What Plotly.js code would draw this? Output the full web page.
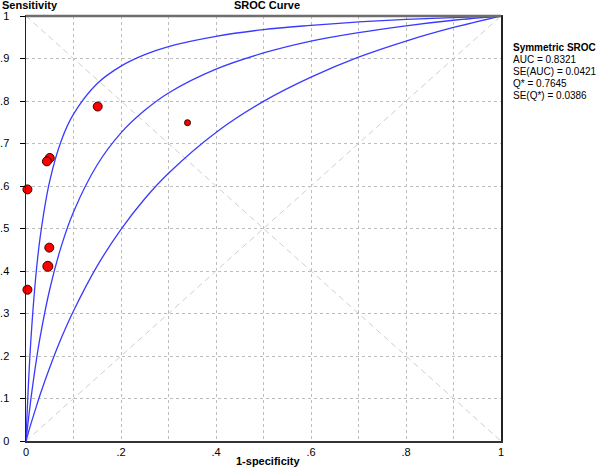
<!DOCTYPE html>
<html>
<head>
<meta charset="utf-8">
<script src="https://cdn.plot.ly/plotly-3.0.1.min.js"></script>
<style>html,body{margin:0;padding:0;background:#fff;}#chart{width:600px;height:468px;}</style>
</head>
<body>
<div id="chart"></div>
<script>
// Study points (1-specificity, sensitivity)
const studyFPR = [0.151, 0.340, 0.050, 0.044, 0.003, 0.049, 0.046, 0.003];
const studyTPR = [0.787, 0.749, 0.666, 0.658, 0.592, 0.455, 0.411, 0.356];
const studySize = [9, 6, 9, 9, 9, 9, 10, 9];

// SROC curves
const curveFPR = [0, 0.002, 0.005, 0.01, 0.02, 0.03, 0.05, 0.075, 0.1, 0.15, 0.2, 0.25, 0.3, 0.4, 0.5, 0.6, 0.7, 0.8, 0.9, 1];
const upperTPR = [0, 0.057, 0.131, 0.233, 0.380, 0.481, 0.612, 0.709, 0.769, 0.841, 0.882, 0.909, 0.928, 0.952, 0.968, 0.978, 0.986, 0.992, 0.996, 1];
const srocTPR  = [0, 0.021, 0.050, 0.096, 0.177, 0.246, 0.357, 0.461, 0.539, 0.650, 0.725, 0.778, 0.819, 0.875, 0.913, 0.941, 0.961, 0.977, 0.990, 1];
const lowerTPR = [0, 0.008, 0.020, 0.039, 0.075, 0.110, 0.173, 0.244, 0.306, 0.412, 0.498, 0.570, 0.630, 0.726, 0.799, 0.856, 0.903, 0.941, 0.973, 1];

// Reference diagonals
const diagX = [0, 1];
const diagUp = [0, 1];
const diagDown = [1, 0];

// Ticks
const xTickVals = [0, 0.1, 0.2, 0.3, 0.4, 0.5, 0.6, 0.7, 0.8, 0.9, 1];
const xTickText = ['0', '', '.2', '', '.4', '', '.6', '', '.8', '', '1'];
const yTickVals = [0, 0.1, 0.2, 0.3, 0.4, 0.5, 0.6, 0.7, 0.8, 0.9, 1];
const yTickText = ['0', '.1', '.2', '.3', '.4', '.5', '.6', '.7', '.8', '.9', '1'];

// Summary text
const summaryTitle = 'Symmetric SROC';
const summaryLines = ['AUC = 0.8321', 'SE(AUC) = 0.0421', 'Q* = 0.7645', 'SE(Q*) = 0.0386'];

const FONT = 'Arial, "Liberation Sans", sans-serif';
const blue = '#3a3aff';

const traces = [
  {x: diagX, y: diagDown, mode: 'lines', line: {color: '#cfcfcf', width: 1, dash: '6px,4px'}, hoverinfo: 'skip'},
  {x: diagX, y: diagUp, mode: 'lines', line: {color: '#cfcfcf', width: 1, dash: '6px,4px'}, hoverinfo: 'skip'},
  {x: curveFPR, y: upperTPR, mode: 'lines', line: {color: blue, width: 1.3, shape: 'spline'}},
  {x: curveFPR, y: srocTPR, mode: 'lines', line: {color: blue, width: 1.3, shape: 'spline'}},
  {x: curveFPR, y: lowerTPR, mode: 'lines', line: {color: blue, width: 1.3, shape: 'spline'}},
  {x: studyFPR, y: studyTPR, mode: 'markers', marker: {color: '#ff0000', opacity: 1, size: studySize, line: {color: '#3a0000', width: 1}}, cliponaxis: false}
];

const annotations = [
  {text: '<b>Sensitivity</b>', xref: 'paper', yref: 'paper', x: -26/475, y: 1 + 11/424, xanchor: 'left', yanchor: 'middle', showarrow: false, font: {family: FONT, size: 11, color: '#000'}},
  {text: '<b>SROC Curve</b>', xref: 'paper', yref: 'paper', x: (267-26)/475, y: 1 + 11/424, xanchor: 'center', yanchor: 'middle', showarrow: false, font: {family: FONT, size: 11, color: '#000'}},
  {text: '<b>1-specificity</b>', xref: 'paper', yref: 'paper', x: (268-26)/475, y: -(461-441)/424, xanchor: 'center', yanchor: 'middle', showarrow: false, font: {family: FONT, size: 11, color: '#000'}},
  {text: '<b>' + summaryTitle + '</b>', xref: 'paper', yref: 'paper', x: (511-26)/475, y: (441-48)/424, xanchor: 'left', yanchor: 'middle', showarrow: false, font: {family: FONT, size: 10, color: '#000'}}
];
summaryLines.forEach((t, i) => {
  annotations.push({text: t, xref: 'paper', yref: 'paper', x: (511-26)/475, y: (441-(60 + i*12))/424, xanchor: 'left', yanchor: 'middle', showarrow: false, font: {family: FONT, size: 10, color: '#000'}});
});

const layout = {
  width: 600, height: 468,
  margin: {l: 26, r: 99, t: 16, b: 27, pad: 0},
  paper_bgcolor: '#fff', plot_bgcolor: '#fff',
  showlegend: false,
  font: {family: FONT, size: 11, color: '#000'},
  xaxis: {
    range: [0, 1], tickvals: xTickVals, ticktext: xTickText, ticks: '', ticklen: 0,
    showgrid: true, gridcolor: '#bdbdbd', griddash: '3px,3px', gridwidth: 1,
    showline: true, linecolor: '#333', linewidth: 1.5, mirror: true, zeroline: false,
    tickfont: {family: FONT, size: 11, color: '#000'}, fixedrange: true
  },
  yaxis: {
    range: [0, 1], tickvals: yTickVals, ticktext: yTickText, ticks: 'outside', ticklen: 5, tickcolor: '#000',
    ticklabelstandoff: 8,
    showgrid: true, gridcolor: '#bdbdbd', griddash: '3px,3px', gridwidth: 1,
    showline: true, linecolor: '#222', linewidth: 1.5, mirror: true, zeroline: false,
    tickfont: {family: FONT, size: 11, color: '#000'}, fixedrange: true
  },
  shapes: [
    {type: 'line', xref: 'paper', yref: 'paper', x0: 0, x1: 1, y0: 1, y1: 1, line: {color: '#6e6e6e', width: 2.5}}
  ],
  annotations: annotations
};

Plotly.newPlot('chart', traces, layout, {staticPlot: true});
</script>
</body>
</html>
